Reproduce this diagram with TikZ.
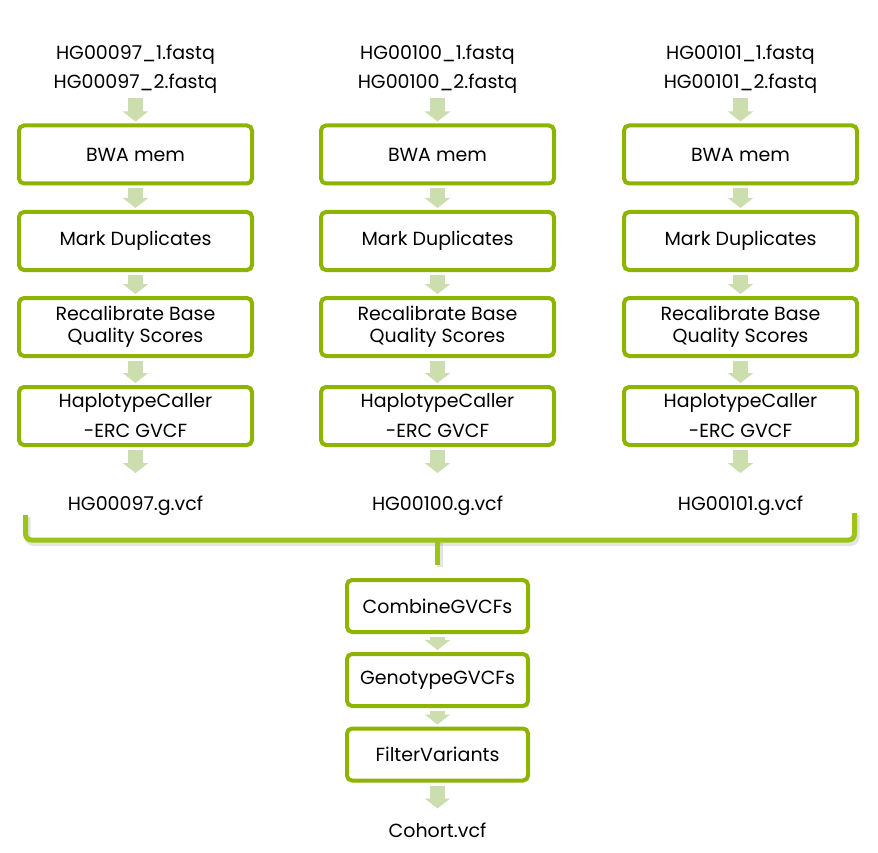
\documentclass[tikz,border=0pt]{standalone}
\usepackage{fontspec}
\setmainfont{Poppins}
\usetikzlibrary{positioning,arrows.meta,shadows}
\definecolor{boxgreen}{HTML}{8CB400}
\definecolor{bracegreen}{HTML}{9CC414}
\definecolor{arrowgreen}{HTML}{CCDDAE}
\tikzset{
stepbox/.style={draw=boxgreen,line width=4pt,rounded corners=5pt,fill=white,
  minimum width=233pt,minimum height=58pt,inner sep=0pt,align=center,
  drop shadow={opacity=0.12,shadow xshift=1.5pt,shadow yshift=-2pt}},
cohortbox/.style={stepbox,minimum width=181pt,minimum height=52pt},
filetext/.style={align=center,inner sep=0pt,yshift=-2.5pt},
lines/.style={font=\fontsize{19}{#1}\selectfont},
lines/.default=22,
flowarrow/.style={-{Triangle[width=25pt,length=10pt]},line width=15pt,arrowgreen,
  shorten <=3pt,shorten >=2pt},
bracket/.style={draw=bracegreen,line width=5pt,rounded corners=6pt},
bracketshade/.style={draw=black,opacity=0.1,line width=6pt,rounded corners=6pt}
}
\begin{document}
\begin{tikzpicture}[x=1pt,y=-1pt,every node/.style={lines}]
\useasboundingbox (0,0) rectangle (878,853);
% one lane per sample
\foreach \c/\x/\id in {A/135.5/00097,B/437.5/00100,C/740.5/00101}{
  \node[filetext,lines=29] (fq\c) at (\x,66.5) {HG\id\_1.fastq\\HG\id\_2.fastq};
  \node[stepbox] (bwa\c) at (\x,154.5) {BWA mem};
  \node[stepbox] (md\c) at (\x,241) {Mark Duplicates};
  \node[stepbox] (bqsr\c) at (\x,327) {Recalibrate Base\\Quality Scores};
  \node[stepbox,lines=30] (hc\c) at (\x,416) {HaplotypeCaller\\-ERC GVCF};
  \node[filetext] (gvcf\c) at (\x,503) {HG\id.g.vcf};
  \draw[flowarrow] (fq\c.south) ++(0,2) -- (bwa\c.north);
  \draw[flowarrow] (bwa\c) -- (md\c);
  \draw[flowarrow] (md\c) -- (bqsr\c);
  \draw[flowarrow] (bqsr\c) -- (hc\c);
  \draw[flowarrow,shorten >=0pt] (hc\c.south) -- ++(0,26);
}
% joint genotyping
\node[cohortbox] (combine) at (437.5,606) {CombineGVCFs};
\node[cohortbox] (genotype) at (437.5,680) {GenotypeGVCFs};
\node[cohortbox] (filter) at (437.5,754.5) {FilterVariants};
\node[filetext] (cohort) at (437.5,828) {Cohort.vcf};
\draw[flowarrow] (combine) -- (genotype);
\draw[flowarrow] (genotype) -- (filter);
\draw[flowarrow,shorten >=0pt] (filter.south) -- ++(0,26);
% bracket joining the three lanes
\draw[bracketshade] (27.5,517) -- (27.5,543) -- (856.5,543) -- (856.5,515);
\draw[bracketshade] (439.5,543) -- (439.5,567);
\draw[bracket] (25.5,515) -- (25.5,540) -- (854.5,540) -- (854.5,513);
\draw[draw=bracegreen,line width=5pt] (437.5,538) -- (437.5,565);
\end{tikzpicture}
\end{document}
